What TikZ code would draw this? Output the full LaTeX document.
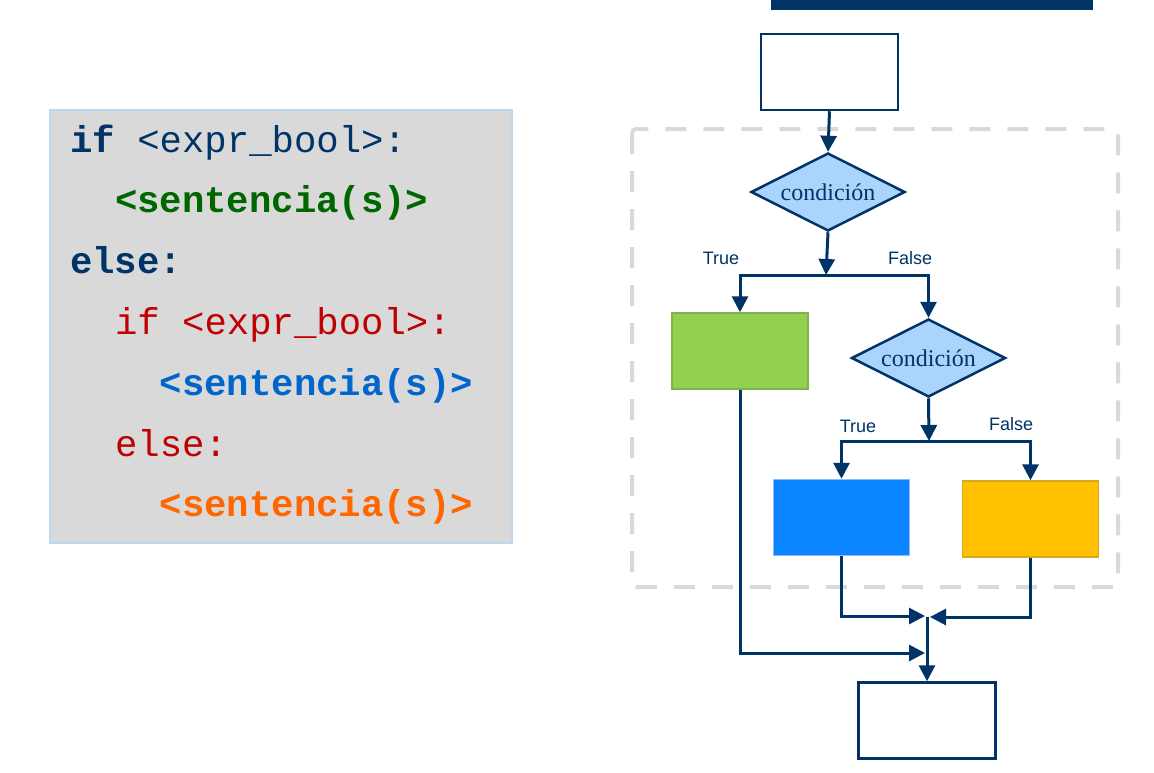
\documentclass[tikz,border=0pt]{standalone}
\usepackage{fontspec}
\setmainfont{Liberation Serif}
\setsansfont{Liberation Sans}
\setmonofont{Liberation Mono}
\usetikzlibrary{shapes.geometric,arrows.meta}
\definecolor{navy}{HTML}{003366}
\definecolor{lblue}{HTML}{AAD4FC}
\definecolor{codegray}{HTML}{D9D9D9}
\definecolor{codeborder}{HTML}{BDD7EE}
\definecolor{dashgray}{HTML}{D9D9D9}
\definecolor{gfill}{HTML}{92D050}
\definecolor{gborder}{HTML}{7FB24A}
\definecolor{bfill}{HTML}{0A84FF}
\definecolor{bborder}{HTML}{8FBCE8}
\definecolor{ofill}{HTML}{FFC000}
\definecolor{oborder}{HTML}{D8A820}
\definecolor{cgreen}{HTML}{006600}
\definecolor{cred}{HTML}{C00000}
\definecolor{cblue}{HTML}{0066CC}
\definecolor{corange}{HTML}{FF6600}
\newfontfamily\condfont{Liberation Serif}
\begin{document}
\begin{tikzpicture}[x=1pt,y=-1pt,
  flow/.style={draw=navy, line width=3pt, -{Triangle[length=16pt,width=16pt]}},
  boxw/.style={draw=navy, line width=2.5pt, fill=white, minimum width=137pt, minimum height=76pt, inner sep=0pt},
  colbox/.style={line width=1.5pt, minimum width=136pt, minimum height=76pt, inner sep=0pt},
  cond/.style={diamond, draw=navy, line width=2.5pt, fill=lblue, minimum width=154pt, minimum height=78pt, inner sep=0pt, aspect=2, font=\condfont\fontsize{24}{28}\selectfont, text=navy},
  lbl/.style={font=\sffamily\fontsize{18}{20}\selectfont, text=navy, inner sep=0pt},
  code/.style={anchor=base west, inner sep=0pt, font=\ttfamily\fontsize{37.3}{40}\selectfont},
  dashbox/.style={draw=dashgray, line width=4pt, dash pattern=on 21pt off 17pt, rounded corners=4pt}
]
\useasboundingbox (0,0) rectangle (1154,772);
% code panel
\node[draw=codeborder, line width=2pt, fill=codegray, minimum width=462pt, minimum height=433pt, inner sep=0pt] (panel) at (281,326.5) {};
\node[code, text=navy] (c1) at (70,152) {\textbf{if}\ <expr\_bool>:};
\node[code, text=cgreen] (c2) at (114.8,212.8) {\textbf{<sentencia(s)>}};
\node[code, text=navy] (c3) at (70,273.6) {\textbf{else:}};
\node[code, text=cred] (c4) at (114.8,334.4) {if <expr\_bool>:};
\node[code, text=cblue] (c5) at (159.6,395.2) {\textbf{<sentencia(s)>}};
\node[code, text=cred] (c6) at (114.8,456) {else:};
\node[code, text=corange] (c7) at (159.6,516.8) {\textbf{<sentencia(s)>}};
% top bar
\fill[navy] (771,0) rectangle (1093,10);
% dashed region
\draw[dashbox] (632,129) rectangle (1118,587);
% nodes
\node[boxw] (s) at (829.5,72) {};
\node[cond] (d1) at (828,192) {condición};
\node[colbox, draw=gborder, fill=gfill] (g) at (740,351) {};
\node[cond] (d2) at (928.5,358) {condición};
\node[colbox, draw=bborder, fill=bfill] (b) at (841.5,517.5) {};
\node[colbox, draw=oborder, fill=ofill] (o) at (1030.5,519) {};
\node[boxw] (e) at (927,720.5) {};
% labels
\node[lbl] (t1) at (721,258) {True};
\node[lbl] (f1) at (910,258) {False};
\node[lbl] (t2) at (858,426) {True};
\node[lbl] (f2) at (1011,424) {False};
% junctions
\coordinate (j1) at (826,275);
\coordinate (j2) at (929,441);
\coordinate (mL) at (925,616);
\coordinate (mR) at (930,617);
\coordinate (mG) at (925,653);
\coordinate (m) at (927,617);
% connectors
\draw[flow] (s.south) -- (d1.north);
\draw[flow] (d1.south) -- (j1);
\draw[flow] (j1) -| (g.north);
\draw[flow] (j1) -| (d2.north);
\draw[flow] (d2.south) -- (j2);
\draw[flow] (j2) -| (b.north);
\draw[flow] (j2) -| (o.north);
\draw[flow] (b.south) |- (mL);
\draw[flow] (o.south) |- (mR);
\draw[flow] (g.south) |- (mG);
\draw[flow] (m) -- (e.north);
\end{tikzpicture}
\end{document}
